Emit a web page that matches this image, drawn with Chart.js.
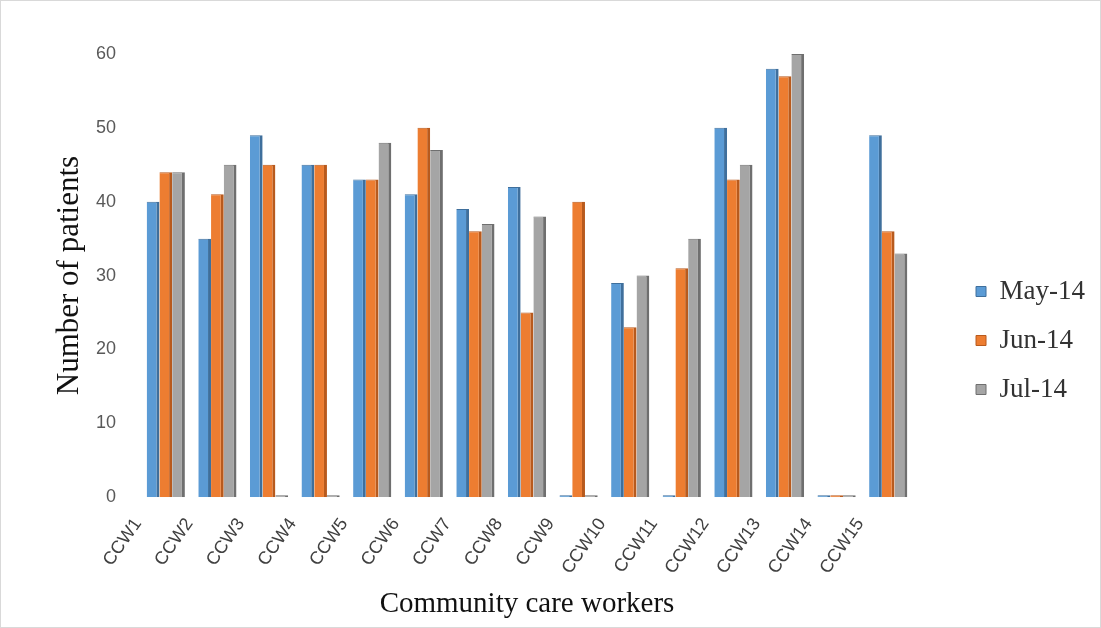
<!DOCTYPE html>
<html>
  <head>
    <meta charset="utf-8" />
    <title>Number of patients per community care worker</title>
    <script src="https://cdn.jsdelivr.net/npm/chart.js@4"></script>
    <style>
      body { margin: 0; background: #fff; }
      #wrap { width: 1101px; height: 628px; box-sizing: border-box; border: 1px solid #d9d9d9; }
    </style>
  </head>
  <body>
    <div id="wrap">
      <canvas id="patientsCanvas"></canvas>
    </div>
    <script>
      const workers = ["CCW1", "CCW2", "CCW3", "CCW4", "CCW5", "CCW6", "CCW7", "CCW8",
        "CCW9", "CCW10", "CCW11", "CCW12", "CCW13", "CCW14", "CCW15"];
      const may14 = [40, 35, 49, 45, 43, 41, 39, 42, 0, 29, 0, 50, 58, 0, 49];
      const jun14 = [44, 41, 45, 45, 43, 50, 36, 25, 40, 23, 31, 43, 57, 0, 36];
      const jul14 = [44, 45, 0, 0, 48, 47, 37, 38, 0, 30, 35, 45, 60, 0, 33];

      function series(label, data, fill, edge) {
        return {
          label: label,
          data: data,
          backgroundColor: fill,
          borderColor: edge,
          borderWidth: { right: 3, top: 1 },
          borderSkipped: "bottom",
          minBarLength: 2,
          categoryPercentage: 0.74,
          barPercentage: 1.0,
        };
      }

      // legend sits further right of the plot than chart.js puts it
      const legendGap = 37;
      const legendShift = 40;
      const legendPlacer = {
        id: "legendPlacer",
        afterInit(chart) {
          const fit = chart.legend.fit;
          chart.legend.fit = function () {
            fit.call(this);
            this.width += legendGap;
          };
        },
        afterLayout(chart) {
          chart.legend.left += legendShift;
          chart.legend.right = chart.width;
        },
      };

      const ctx = document.getElementById("patientsCanvas").getContext("2d");
      new Chart(ctx, {
        type: "bar",
        data: {
          labels: workers,
          datasets: [
            series("May-14", may14, "#5b9bd5", "#3f6f9c"),
            series("Jun-14", jun14, "#ed7d31", "#b85a1d"),
            series("Jul-14", jul14, "#a5a5a5", "#6f6f6f"),
          ],
        },
        plugins: [legendPlacer],
        options: {
          responsive: true,
          maintainAspectRatio: false,
          animation: false,
          layout: { padding: { left: 46, right: 8, top: 53, bottom: 0 } },
          plugins: {
            legend: {
              position: "right",
              labels: {
                boxWidth: 10,
                boxHeight: 10,
                padding: 22,
                color: "#333",
                font: { family: "Liberation Serif", size: 27 },
              },
            },
            tooltip: { enabled: false },
          },
          scales: {
            x: {
              grid: { display: false },
              border: { display: false },
              ticks: {
                minRotation: 55,
                maxRotation: 55,
                padding: 9,
                labelOffset: -28,
                color: "#404040",
                font: { family: "Liberation Sans", size: 18 },
              },
              title: {
                display: true,
                text: "Community care workers",
                color: "#111",
                font: { family: "Liberation Serif", size: 29 },
                padding: { top: 0, bottom: 5 },
              },
            },
            y: {
              min: 0,
              max: 60,
              grid: { display: false },
              border: { display: false },
              afterFit(scale) {
                scale.width = 93;
              },
              ticks: {
                stepSize: 10,
                padding: 16,
                color: "#595959",
                font: { family: "Liberation Sans", size: 18 },
              },
              title: {
                display: true,
                text: "Number of patients",
                color: "#111",
                font: { family: "Liberation Serif", size: 31 },
                padding: { bottom: 6 },
              },
            },
          },
        },
      });
    </script>
  </body>
</html>
